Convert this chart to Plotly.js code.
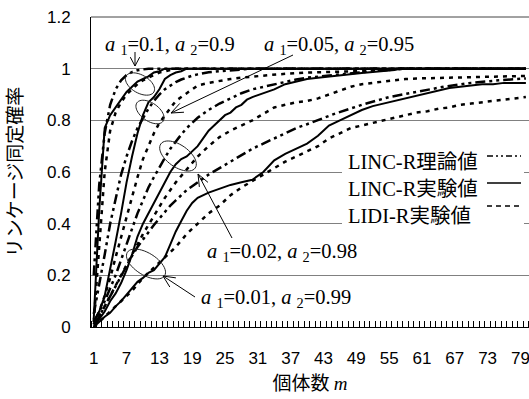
<!DOCTYPE html>
<html><head><meta charset="utf-8">
<script src="https://cdn.plot.ly/plotly-3.0.1.min.js"></script>
<style>html,body{margin:0;padding:0;background:#fff}#chart{width:529px;height:399px}</style>
</head><body><div id="chart"></div>
<script>
// ---- tick labels ----
const xTickVals = [1,7,13,19,25,31,37,43,49,55,61,67,73,79];
const xTickText = ['1','7','13','19','25','31','37','43','49','55','61','67','73','79'];
const yTickVals = [0,0.2,0.4,0.6,0.8,1,1.2];
const yTickText = ['0','0.2','0.4','0.6','0.8','1','1.2'];
const seriesNames = ['LINC-R理論値','LINC-R実験値','LIDI-R実験値'];
const groupLabels = ['a1=0.1, a2=0.9','a1=0.05, a2=0.95','a1=0.02, a2=0.98','a1=0.01, a2=0.99'];

// ---- a1=0.1, a2=0.9 ----
const g1T_x = [1,2,3,4,5,6,7,8,9,10,11,80];
const g1T_y = [0.2,0.55,0.75,0.86,0.92,0.955,0.975,0.987,0.994,0.997,1.0,1.0];
const g1E_x = [1,2,3,4,5,6,7,8,9,10,11,12,13,14,80];
const g1E_y = [0.03,0.45,0.77,0.82,0.85,0.88,0.91,0.93,0.95,0.96,0.97,0.985,0.99,1.0,1.0];
const g1L_x = [1,2,3,4,5,6,7,8,9,10,11,12,13,14,15,16,80];
const g1L_y = [0.02,0.3,0.6,0.76,0.83,0.87,0.9,0.92,0.94,0.955,0.965,0.975,0.985,0.99,0.995,1.0,1.0];

// ---- a1=0.05, a2=0.95 ----
const g2T_x = [1,2,3,4,5,6,7,8,9,10,11,12,13,14,15,16,17,18,19,20,22,24,26,28,30,80];
const g2T_y = [0.05,0.16,0.28,0.4,0.5,0.59,0.66,0.72,0.77,0.81,0.845,0.875,0.9,0.92,0.935,0.948,0.958,0.966,0.973,0.978,0.986,0.99,0.994,0.997,1.0,1.0];
const g2E_x = [1,2,3,4,5,6,7,8,9,10,11,12,13,14,15,16,17,18,80];
const g2E_y = [0.02,0.06,0.12,0.22,0.33,0.44,0.56,0.66,0.75,0.82,0.87,0.89,0.92,0.96,0.975,0.985,0.99,1.0,1.0];
const g2L_x = [1,2,3,4,5,6,7,8,9,10,11,12,13,14,15,16,17,18,19,20,22,24,26,28,30,33,36,40,45,50,54,57,80];
const g2L_y = [0.01,0.06,0.12,0.19,0.27,0.35,0.43,0.51,0.58,0.65,0.7,0.75,0.79,0.82,0.85,0.875,0.89,0.905,0.92,0.935,0.945,0.953,0.96,0.965,0.97,0.975,0.98,0.985,0.988,0.99,0.993,1.0,1.0];

// ---- a1=0.02, a2=0.98 ----
const g3T_x = [1,2,3,4,5,6,7,8,9,10,11,12,13,14,15,16,17,18,19,20,22,24,26,28,30,32,34,36,38,40,43,46,49,52,55,58,80];
const g3T_y = [0.02,0.06,0.1,0.15,0.2,0.26,0.32,0.38,0.44,0.49,0.54,0.58,0.62,0.655,0.69,0.72,0.745,0.77,0.79,0.81,0.84,0.865,0.885,0.905,0.92,0.93,0.94,0.95,0.958,0.965,0.972,0.978,0.984,0.99,0.995,1.0,1.0];
const g3E_x = [1,2,3,4,5,6,7,8,9,10,11,12,13,14,15,16,17,18,19,20,21,22,23,24,25,26,27,28,29,30,32,34,36,38,40,42,44,46,48,50,52,54,56,57,80];
const g3E_y = [0,0.03,0.06,0.1,0.13,0.17,0.22,0.28,0.35,0.4,0.44,0.48,0.52,0.56,0.6,0.63,0.65,0.66,0.68,0.7,0.73,0.76,0.78,0.8,0.82,0.83,0.85,0.86,0.88,0.89,0.905,0.92,0.94,0.95,0.96,0.965,0.97,0.975,0.98,0.983,0.987,0.99,0.995,1.0,1.0];
const g3L_x = [1,2,4,6,8,10,12,14,16,18,20,22,24,26,28,30,32,34,36,38,40,42,44,46,48,50,52,54,56,58,60,65,70,75,80];
const g3L_y = [0.01,0.04,0.12,0.2,0.28,0.36,0.43,0.5,0.56,0.61,0.66,0.7,0.735,0.76,0.78,0.8,0.825,0.85,0.86,0.87,0.875,0.885,0.9,0.915,0.93,0.94,0.945,0.95,0.955,0.96,0.962,0.965,0.967,0.97,0.972];

// ---- a1=0.01, a2=0.99 ----
const g4T_x = [1,2,3,4,5,6,7,8,9,10,11,12,13,14,15,16,17,18,19,20,22,24,26,28,30,32,34,36,38,40,45,50,55,60,65,70,75,80];
const g4T_y = [0.01,0.04,0.08,0.12,0.16,0.2,0.24,0.275,0.31,0.34,0.37,0.395,0.42,0.445,0.47,0.49,0.51,0.53,0.545,0.56,0.59,0.615,0.64,0.665,0.69,0.71,0.73,0.75,0.77,0.785,0.825,0.86,0.89,0.91,0.93,0.945,0.955,0.962];
const g4E_x = [1,2,3,4,5,6,7,8,9,10,11,12,13,14,15,16,17,18,19,20,22,24,26,28,30,32,34,36,38,40,42,44,46,48,50,52,54,56,58,60,62,64,66,68,70,72,74,76,78,80];
const g4E_y = [0,0.02,0.04,0.055,0.08,0.1,0.125,0.15,0.175,0.19,0.21,0.22,0.245,0.27,0.32,0.37,0.41,0.45,0.48,0.5,0.52,0.535,0.55,0.56,0.57,0.6,0.645,0.67,0.69,0.71,0.74,0.78,0.8,0.82,0.84,0.855,0.865,0.875,0.885,0.895,0.905,0.915,0.925,0.93,0.935,0.94,0.94,0.945,0.945,0.945];
const g4L_x = [1,2,4,6,8,10,12,14,16,18,20,22,24,26,28,30,32,34,36,38,40,42,44,46,48,50,52,54,56,58,60,62,64,66,68,70,72,74,76,78,80];
const g4L_y = [0,0.02,0.06,0.1,0.14,0.19,0.23,0.27,0.31,0.36,0.4,0.44,0.47,0.51,0.54,0.565,0.59,0.615,0.64,0.66,0.68,0.7,0.73,0.75,0.77,0.78,0.79,0.8,0.81,0.82,0.83,0.835,0.845,0.85,0.86,0.865,0.87,0.875,0.88,0.885,0.89];

// ---- styles ----
const DASH_T = '10px,4px,3px,4px,3px,4px';
const DASH_L = '4px,5px';
const styleT = {color:'#000', width:2.5, dash:DASH_T};
const styleE = {color:'#000', width:2};
const styleL = {color:'#000', width:2.5, dash:DASH_L};

function tr(x, y, line, name){
  return {x:x, y:y, type:'scatter', mode:'lines', line:line, name:name, showlegend:false, hoverinfo:'skip'};
}
const traces = [
  tr(g4L_x,g4L_y,styleL,seriesNames[2]), tr(g3L_x,g3L_y,styleL,seriesNames[2]),
  tr(g2L_x,g2L_y,styleL,seriesNames[2]), tr(g1L_x,g1L_y,styleL,seriesNames[2]),
  tr(g4T_x,g4T_y,styleT,seriesNames[0]), tr(g3T_x,g3T_y,styleT,seriesNames[0]),
  tr(g2T_x,g2T_y,styleT,seriesNames[0]), tr(g1T_x,g1T_y,styleT,seriesNames[0]),
  tr(g4E_x,g4E_y,styleE,seriesNames[1]), tr(g3E_x,g3E_y,styleE,seriesNames[1]),
  tr(g2E_x,g2E_y,styleE,seriesNames[1]), tr(g1E_x,g1E_y,styleE,seriesNames[1])
];

// ---- geometry helpers (pixel -> data) ----
const W = 529, H = 399;
const M = {l:91, r:0, t:17, b:72};
const XR = [0.5, 80.57], YR = [0, 1.2];
const PW = W - M.l - M.r, PH = H - M.t - M.b;
function dx(px){ return XR[0] + (px - M.l) / PW * (XR[1]-XR[0]); }
function dy(py){ return YR[0] + (H - M.b - py) / PH * (YR[1]-YR[0]); }

const shapes = [];
// darker top border of plot area
shapes.push({type:'line', xref:'paper', yref:'paper', x0:0, x1:1, y0:1, y1:1, line:{color:'#444', width:1}, layer:'above'});
function ellipse(cx, cy, a, b, angDeg){
  const t = angDeg*Math.PI/180; let p = '';
  for (let i=0;i<=48;i++){
    const u = i/48*2*Math.PI;
    const ex = a*Math.cos(u), ey = b*Math.sin(u);
    const X = cx + ex*Math.cos(t) - ey*Math.sin(t);
    const Y = cy + ex*Math.sin(t) + ey*Math.cos(t);
    p += (i===0?'M':'L') + dx(X).toFixed(4) + ',' + dy(Y).toFixed(5);
  }
  shapes.push({type:'path', xref:'x', yref:'y', path:p+'Z', line:{color:'#222', width:1}, layer:'above'});
}
function arrow(tx, ty, hx, hy, len, half){
  shapes.push({type:'line', xref:'x', yref:'y', x0:dx(tx), y0:dy(ty), x1:dx(hx), y1:dy(hy), line:{color:'#000', width:1}, layer:'above'});
  const ang = Math.atan2(ty-hy, tx-hx), h = half*Math.PI/180;
  const a1x = hx + len*Math.cos(ang+h), a1y = hy + len*Math.sin(ang+h);
  const a2x = hx + len*Math.cos(ang-h), a2y = hy + len*Math.sin(ang-h);
  shapes.push({type:'path', xref:'x', yref:'y',
    path:'M'+dx(a1x)+','+dy(a1y)+'L'+dx(hx)+','+dy(hy)+'L'+dx(a2x)+','+dy(a2y),
    line:{color:'#000', width:1}, layer:'above'});
}
ellipse(140, 84, 16, 9, 30);
ellipse(150, 112, 16, 9, 35);
ellipse(178, 156, 21, 11, 35);
ellipse(146, 264, 22, 11, 32);
arrow(135, 52, 135, 66, 10, 28);
arrow(293, 55, 171, 113, 13, 22);
arrow(232, 238, 198, 174, 13, 22);
arrow(195, 297, 163, 276, 13, 25);

// legend box + samples
shapes.push({type:'rect', xref:'x', yref:'y', x0:dx(342), x1:dx(524), y0:dy(230), y1:dy(145), fillcolor:'#fff', line:{width:0}, layer:'above'});
const legY = [156, 183, 206];
const legDash = ['6px,3px,2px,3px,2px,3px', 'solid', '5px,4px'];
for (let i=0;i<3;i++){
  shapes.push({type:'line', xref:'x', yref:'y', x0:dx(487), x1:dx(521), y0:dy(legY[i]), y1:dy(legY[i]), line:{color:'#000', width:1.3, dash:legDash[i]}, layer:'above'});
}

const serif = 'Liberation Serif, Times New Roman, Noto Sans CJK JP, serif';
function lab(txt){ // "a1=0.1, a2=0.9" -> rich text
  const m = txt.match(/a1=([\d.]+), a2=([\d.]+)/);
  return '<i>a</i> <sub>1</sub>=' + m[1] + ', <i>a</i> <sub>2</sub>=' + m[2];
}
const annotations = [
  {text:lab(groupLabels[0]), x:dx(170), y:dy(45)},
  {text:lab(groupLabels[1]), x:dx(339), y:dy(45)},
  {text:lab(groupLabels[2]), x:dx(282), y:dy(252)},
  {text:lab(groupLabels[3]), x:dx(276), y:dy(298)}
].map(a => Object.assign(a, {xref:'x', yref:'y', showarrow:false, xanchor:'center', yanchor:'middle', font:{family:serif, size:20.5, color:'#000'}}));
const legTextY = [162, 189, 216];
for (let i=0;i<3;i++){
  annotations.push({text:seriesNames[i], xref:'x', yref:'y', x:dx(346), y:dy(legTextY[i]), xanchor:'left', yanchor:'middle', showarrow:false, font:{family:serif, size:20.5, color:'#000'}});
}

const layout = {
  width:W, height:H, margin:M, paper_bgcolor:'#fff', plot_bgcolor:'#fff', showlegend:false,
  font:{family:'Liberation Sans, Noto Sans CJK JP, sans-serif', color:'#000'},
  xaxis:{range:XR, tickmode:'array', tickvals:xTickVals, ticktext:xTickText, ticks:'', showgrid:false, zeroline:false,
    showline:true, linecolor:'#000', linewidth:1, ticklabelstandoff:16, ticklabeloverflow:'allow',
    tickfont:{family:'Liberation Sans, sans-serif', size:17, color:'#000'},
    minor:{ticks:'inside', tick0:0.5, dtick:1, ticklen:6, tickcolor:'#000', tickwidth:1, showgrid:false},
    title:{text:'個体数 <span style="font-family:Liberation Serif"><i>m</i></span>', font:{family:'Noto Sans CJK JP, sans-serif', size:19, color:'#000'}, standoff:9}},
  yaxis:{range:YR, tickmode:'array', tickvals:yTickVals, ticktext:yTickText, ticks:'', showgrid:true, gridcolor:'#808080', gridwidth:1,
    zeroline:false, showline:true, linecolor:'#000', linewidth:1, ticklabelstandoff:16,
    tickfont:{family:'Liberation Sans, sans-serif', size:17, color:'#000'},
    title:{text:'リンケージ同定確率', font:{family:'Noto Sans CJK JP, sans-serif', size:19, color:'#000'}, standoff:20}},
  shapes:shapes, annotations:annotations
};
Plotly.newPlot('chart', traces, layout, {staticPlot:true, displayModeBar:false});
</script></body></html>
